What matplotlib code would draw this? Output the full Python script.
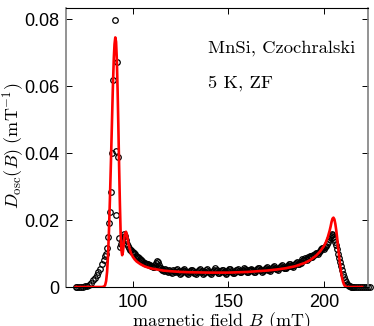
import numpy as np
import matplotlib.pyplot as plt

# measured points: B (mT) and D_osc (1/mT)
b_low = [70, 71, 72, 73, 74, 75, 76, 77, 78, 79, 80, 81, 82, 83, 84, 85]
d_low = [0, 0, 0, 0, 0, 0.0002, 0.0003, 0.0007, 0.0013, 0.0020, 0.0027,
         0.0035, 0.0045, 0.0055, 0.0068, 0.0082]

b_peak = [85.5, 86.0, 86.5, 87.0, 87.5, 88.0, 88.5, 88.9, 89.6, 90.5, 91.0,
          91.4, 91.9, 92.3, 92.8, 93.3, 93.8, 94.3, 94.8, 95.3, 95.8, 96.3,
          96.8, 97.3, 97.8, 98.3]
d_peak = [0.0092, 0.0100, 0.0116, 0.0149, 0.0191, 0.0224, 0.0284, 0.0400,
          0.0618, 0.0797, 0.0405, 0.0215, 0.0673, 0.0389, 0.0146, 0.0120,
          0.0128, 0.0138, 0.0150, 0.0158, 0.0152, 0.0140, 0.0128, 0.0122,
          0.0115, 0.0110]

b_high = list(range(99, 225))
d_high = [0.0110, 0.0104, 0.0098, 0.0090, 0.0086, 0.0082, 0.0078, 0.0073,
          0.0070, 0.0068, 0.0066, 0.0062, 0.0060, 0.0072, 0.0074, 0.0058,
          0.0055, 0.0050, 0.0054, 0.0048, 0.0052, 0.0046,
          0.0050, 0.0044, 0.0053, 0.0047, 0.0041, 0.0049, 0.0055, 0.0045,
          0.0040, 0.0048, 0.0052, 0.0043, 0.0038, 0.0047, 0.0054, 0.0049,
          0.0042, 0.0046, 0.0053, 0.0045, 0.0039, 0.0048, 0.0056, 0.0050,
          0.0043, 0.0047, 0.0052, 0.0044, 0.0040, 0.0049, 0.0055, 0.0046,
          0.0041, 0.0050, 0.0054, 0.0045, 0.0048, 0.0058, 0.0051, 0.0044,
          0.0050, 0.0055, 0.0048, 0.0045, 0.0053, 0.0058, 0.0050, 0.0047,
          0.0055, 0.0060, 0.0052, 0.0049, 0.0057, 0.0062, 0.0055, 0.0052,
          0.0060, 0.0066, 0.0058, 0.0056, 0.0064, 0.0070, 0.0063, 0.0061,
          0.0068, 0.0074, 0.0069, 0.0072, 0.0080, 0.0086, 0.0082, 0.0088,
          0.0094, 0.0090, 0.0096, 0.0102, 0.0100, 0.0108, 0.0115, 0.0112,
          0.0122, 0.0135, 0.0148, 0.0157, 0.0150, 0.0135, 0.0112, 0.0088,
          0.0062, 0.0040, 0.0022, 0.0010, 0.0004, 0.0001,
          0, 0, 0, 0, 0, 0, 0, 0, 0, 0]

# second, interleaved run of points (half-integer fields)
b_mid = [99.5 + i for i in range(116)]
d_mid = [0.0106, 0.0101, 0.0094, 0.0089, 0.0084, 0.0080, 0.0076, 0.0071,
         0.0069, 0.0066, 0.0064, 0.0061, 0.0066, 0.0078, 0.0065, 0.0056,
         0.0052, 0.0047, 0.0051, 0.0045, 0.0049, 0.0043,
         0.0047, 0.0051, 0.0046, 0.0040, 0.0045, 0.0052, 0.0048, 0.0042,
         0.0046, 0.0051, 0.0047, 0.0041, 0.0044, 0.0050, 0.0046, 0.0040,
         0.0045, 0.0051, 0.0048, 0.0042, 0.0044, 0.0052, 0.0047, 0.0041,
         0.0045, 0.0050, 0.0046, 0.0042, 0.0047, 0.0053, 0.0049, 0.0043,
         0.0046, 0.0052, 0.0048, 0.0044, 0.0051, 0.0055, 0.0047, 0.0046,
         0.0052, 0.0050, 0.0045, 0.0050, 0.0056, 0.0052, 0.0046, 0.0051,
         0.0058, 0.0054, 0.0050, 0.0054, 0.0060, 0.0056, 0.0053, 0.0058,
         0.0063, 0.0060, 0.0057, 0.0062, 0.0068, 0.0064, 0.0062, 0.0066,
         0.0072, 0.0070, 0.0075, 0.0083, 0.0081, 0.0084, 0.0090, 0.0092,
         0.0091, 0.0095, 0.0100, 0.0103, 0.0106, 0.0112, 0.0116, 0.0120,
         0.0128, 0.0142, 0.0152, 0.0155, 0.0143, 0.0124, 0.0100, 0.0075,
         0.0050, 0.0030, 0.0015, 0.0006, 0.0002, 0]

# fit curve
fit_b = [70, 84, 85, 85.5, 86, 86.5, 87, 87.5, 88, 88.5, 89, 89.5, 90, 90.4,
         90.8, 91.2, 91.6, 92, 92.4, 92.8, 93.2, 93.6, 94, 94.4, 94.8, 95.2,
         95.6, 96, 96.4, 96.8, 97.2, 97.6, 98, 98.5, 99, 100, 101, 102, 104,
         106, 108, 110, 113, 116, 120, 125, 130, 140, 150, 160, 170, 175,
         180, 185, 190, 193, 196, 198, 200, 201, 202, 203, 203.5, 204, 204.5,
         205, 205.5, 206, 206.5, 207, 207.5, 208, 208.5, 209, 209.5, 210,
         210.5, 211, 212, 220]
fit_d = [0, 0, 0.0002, 0.0006, 0.0018, 0.0045, 0.0095, 0.0170, 0.0265,
         0.0370, 0.0480, 0.0590, 0.0680, 0.0725, 0.0745, 0.0732, 0.0680,
         0.0590, 0.0480, 0.0360, 0.0250, 0.0160, 0.0110, 0.0095, 0.0105,
         0.0128, 0.0150, 0.0162, 0.0165, 0.0158, 0.0145, 0.0132, 0.0121,
         0.0110, 0.0101, 0.0090, 0.0082, 0.0076, 0.0068, 0.0062, 0.0058,
         0.0055, 0.0052, 0.0049, 0.0047, 0.0045, 0.0044, 0.0043, 0.0043,
         0.0045, 0.0049, 0.0052, 0.0056, 0.0062, 0.0072, 0.0081, 0.0094,
         0.0106, 0.0122, 0.0133, 0.0148, 0.0168, 0.0180, 0.0194, 0.0204,
         0.0207, 0.0202, 0.0188, 0.0168, 0.0143, 0.0116, 0.0090, 0.0065,
         0.0044, 0.0028, 0.0016, 0.0008, 0.0003, 0, 0]

x_ticks = [100, 150, 200]
y_ticks = [0, 0.02, 0.04, 0.06, 0.08]
y_ticklabels = ['0', '0.02', '0.04', '0.06', '0.08']

plt.rcParams['mathtext.fontset'] = 'cm'
plt.rcParams['font.family'] = ['Liberation Sans', 'DejaVu Sans']

fig = plt.figure(figsize=(3.74, 3.26), dpi=100)
ax = fig.add_axes([0.1765, 0.1196, 0.807, 0.856])

b_data = b_low + b_peak + b_high + b_mid
d_data = d_low + d_peak + d_high + d_mid
ax.plot(b_data, d_data, 'o', mfc='none', mec='k', ms=4.0, mew=0.9,
        clip_on=False, zorder=2)
ax.plot(fit_b, fit_d, '-', color='red', lw=1.9, zorder=3)

ax.set_xlim(65, 223)
ax.set_ylim(0, 0.0833)
ax.set_xticks(x_ticks)
ax.set_yticks(y_ticks)
ax.set_yticklabels(y_ticklabels)
ax.tick_params(direction='in', top=True, right=True, length=4, width=0.7,
               labelsize=13, pad=5)
for side in ['left', 'right']:
    ax.spines[side].set_color('0.5')
    ax.spines[side].set_linewidth(1.2)

ax.text(139.5, 0.0713, 'MnSi, Czochralski', family='cmr10', fontsize=13.4,
        va='center', clip_on=False)
ax.text(139.5, 0.0609, '5 K, ZF', family='cmr10', fontsize=13.4, va='center')

fig.text(0.591, 1 - 322 / 326, r'magnetic field $B$ (mT)', family='cmr10',
         fontsize=13, ha='center', va='center')
fig.text(13 / 374, 1 - 146 / 326, r'$D_{\rm osc}(B)\ (\rm mT^{-1})$',
         fontsize=13, rotation=90, ha='center', va='center')

plt.savefig('out.png', dpi=100)
